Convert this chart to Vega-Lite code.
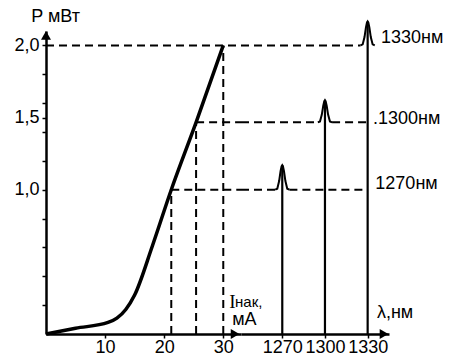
{
  "$schema": "https://vega.github.io/schema/vega-lite/v6.json",
  "padding": {"left": 13, "top": 7, "right": 0, "bottom": 0},
  "spacing": 0,
  "bounds": "flush",
  "config": {
    "font": "Liberation Sans",
    "view": {"stroke": null},
    "axis": {"domainColor": "black", "tickColor": "black", "labelColor": "black", "labelFontSize": 18, "grid": false, "domainWidth": 2.5, "tickWidth": 1.5, "labelOverlap": false}
  },
  "datasets": {
    "curve": [
      {"i": 0, "p": 0}, {"i": 5, "p": 0.04}, {"i": 10.5, "p": 0.08}, {"i": 12, "p": 0.11},
      {"i": 13.5, "p": 0.17}, {"i": 15, "p": 0.27}, {"i": 18, "p": 0.61}, {"i": 21.2, "p": 1.0},
      {"i": 25.4, "p": 1.467}, {"i": 30, "p": 2.0}
    ],
    "dashL": [
      {"i1": 0, "i2": 33, "p": 2.0},
      {"i1": 25.4, "i2": 33, "p": 1.467},
      {"i1": 21.2, "i2": 33, "p": 1.0}
    ],
    "vdashL": [
      {"i": 21.2, "p1": 0, "p2": 1.0},
      {"i": 25.4, "p1": 0, "p2": 1.467},
      {"i": 30, "p1": 0, "p2": 2.0}
    ],
    "arrowsL": [
      {"i": 0, "p": 2.07, "dir": "up"},
      {"i": 32.0, "p": 0, "dir": "right"}
    ],
    "textL": [
      {"i": -2.5, "p": 2.2, "t": "P мВт", "kind": "main"},
      {"i": 31.5, "p": 0.097, "t": "мА", "kind": "main"},
      {"i": 32.0, "p": 0.22, "t": "нак,", "kind": "sub"},
      {"i": 31.0, "p": 0.225, "t": "I", "kind": "serif"}
    ],
    "dashR": [
      {"l1": 1241, "l2": 1325, "p": 2.0},
      {"l1": 1241, "l2": 1295, "p": 1.467},
      {"l1": 1305, "l2": 1330, "p": 1.467},
      {"l1": 1241, "l2": 1265, "p": 1.0},
      {"l1": 1275, "l2": 1330, "p": 1.0}
    ],
    "stems": [
      {"l": 1270, "p1": 0, "p2": 1.17},
      {"l": 1300, "p1": 0, "p2": 1.62},
      {"l": 1330, "p1": 0, "p2": 2.166}
    ],
    "peaks": [
      {"peak": "1270", "l": 1265, "p": 1.0}, {"peak": "1270", "l": 1266.5, "p": 1.007},
      {"peak": "1270", "l": 1267.8, "p": 1.06}, {"peak": "1270", "l": 1268.8, "p": 1.128},
      {"peak": "1270", "l": 1269.5, "p": 1.162}, {"peak": "1270", "l": 1270, "p": 1.17},
      {"peak": "1270", "l": 1270.5, "p": 1.162}, {"peak": "1270", "l": 1271.2, "p": 1.128},
      {"peak": "1270", "l": 1272.2, "p": 1.06}, {"peak": "1270", "l": 1273.5, "p": 1.007},
      {"peak": "1270", "l": 1275, "p": 1.0},
      {"peak": "1300", "l": 1295, "p": 1.467}, {"peak": "1300", "l": 1296.5, "p": 1.473},
      {"peak": "1300", "l": 1297.8, "p": 1.521}, {"peak": "1300", "l": 1298.8, "p": 1.582},
      {"peak": "1300", "l": 1299.5, "p": 1.612}, {"peak": "1300", "l": 1300, "p": 1.62},
      {"peak": "1300", "l": 1300.5, "p": 1.612}, {"peak": "1300", "l": 1301.2, "p": 1.582},
      {"peak": "1300", "l": 1302.2, "p": 1.521}, {"peak": "1300", "l": 1303.5, "p": 1.473},
      {"peak": "1300", "l": 1305, "p": 1.467},
      {"peak": "1330", "l": 1325, "p": 2.0}, {"peak": "1330", "l": 1326.5, "p": 2.007},
      {"peak": "1330", "l": 1327.8, "p": 2.058}, {"peak": "1330", "l": 1328.8, "p": 2.125},
      {"peak": "1330", "l": 1329.5, "p": 2.158}, {"peak": "1330", "l": 1330, "p": 2.166},
      {"peak": "1330", "l": 1330.5, "p": 2.158}, {"peak": "1330", "l": 1331.2, "p": 2.125},
      {"peak": "1330", "l": 1332.2, "p": 2.058}, {"peak": "1330", "l": 1333.5, "p": 2.007},
      {"peak": "1330", "l": 1335, "p": 2.0}
    ],
    "textR": [
      {"l": 1339.4, "p": 2.05, "t": "1330нм"},
      {"l": 1333.8, "p": 1.49, "t": ".1300нм"},
      {"l": 1335.4, "p": 1.04, "t": "1270нм"},
      {"l": 1336.5, "p": 0.145, "t": "λ,нм"}
    ]
  },
  "hconcat": [
    {
      "width": 195,
      "height": 303,
      "layer": [
        {
          "data": {"name": "dashL"},
          "mark": {"type": "rule", "strokeDash": [8, 5], "strokeWidth": 2, "color": "black"},
          "encoding": {
            "x": {"field": "i1", "type": "quantitative", "title": null,
                  "scale": {"domain": [0, 33], "nice": false, "zero": false},
                  "axis": {"values": [10, 20, 30], "tickSize": 4, "labelPadding": 0, "labelFlush": false, "labelFontSize": 18}},
            "x2": {"field": "i2"},
            "y": {"field": "p", "type": "quantitative", "title": null,
                  "scale": {"domain": [0, 2.1], "nice": false},
                  "axis": {"values": [0.2, 0.4, 0.6, 0.8, 1.0, 1.2, 1.4, 1.5, 1.6, 1.8, 2.0], "tickCount": 30, "tickSize": 4, "labelPadding": 3, "labelOverlap": false,
                           "labelExpr": "(abs(datum.value - 1) < 0.001 || abs(datum.value - 1.5) < 0.001 || abs(datum.value - 2) < 0.001) ? replace(format(datum.value, '.1f'), '.', ',') : ''"}}
          }
        },
        {
          "data": {"name": "vdashL"},
          "mark": {"type": "rule", "strokeDash": [8, 5], "strokeWidth": 2, "color": "black"},
          "encoding": {
            "x": {"field": "i", "type": "quantitative", "title": null},
            "y": {"field": "p1", "type": "quantitative", "title": null},
            "y2": {"field": "p2"}
          }
        },
        {
          "data": {"name": "curve"},
          "mark": {"type": "line", "color": "black", "strokeWidth": 3.5, "interpolate": "monotone"},
          "encoding": {
            "x": {"field": "i", "type": "quantitative", "title": null},
            "y": {"field": "p", "type": "quantitative", "title": null}
          }
        },
        {
          "data": {"name": "arrowsL"},
          "transform": [{"filter": "datum.dir == 'up'"}],
          "mark": {"type": "point", "shape": "triangle-up", "filled": true, "color": "black", "size": 100, "opacity": 1},
          "encoding": {
            "x": {"field": "i", "type": "quantitative", "title": null},
            "y": {"field": "p", "type": "quantitative", "title": null}
          }
        },
        {
          "data": {"name": "arrowsL"},
          "transform": [{"filter": "datum.dir == 'right'"}],
          "mark": {"type": "point", "shape": "triangle-right", "filled": true, "color": "black", "size": 100, "opacity": 1},
          "encoding": {
            "x": {"field": "i", "type": "quantitative", "title": null},
            "y": {"field": "p", "type": "quantitative", "title": null}
          }
        },
        {
          "data": {"name": "textL"},
          "transform": [{"filter": "datum.kind == 'main'"}],
          "mark": {"type": "text", "align": "left", "baseline": "middle", "fontSize": 18, "color": "black"},
          "encoding": {
            "x": {"field": "i", "type": "quantitative", "title": null},
            "y": {"field": "p", "type": "quantitative", "title": null},
            "text": {"field": "t"}
          }
        },
        {
          "data": {"name": "textL"},
          "transform": [{"filter": "datum.kind == 'sub'"}],
          "mark": {"type": "text", "align": "left", "baseline": "middle", "fontSize": 15, "color": "black"},
          "encoding": {
            "x": {"field": "i", "type": "quantitative", "title": null},
            "y": {"field": "p", "type": "quantitative", "title": null},
            "text": {"field": "t"}
          }
        },
        {
          "data": {"name": "textL"},
          "transform": [{"filter": "datum.kind == 'serif'"}],
          "mark": {"type": "text", "align": "left", "baseline": "middle", "fontSize": 19, "font": "Liberation Serif", "color": "black"},
          "encoding": {
            "x": {"field": "i", "type": "quantitative", "title": null},
            "y": {"field": "p", "type": "quantitative", "title": null},
            "text": {"field": "t"}
          }
        }
      ]
    },
    {
      "width": 148,
      "height": 303,
      "layer": [
        {
          "data": {"name": "dashR"},
          "mark": {"type": "rule", "strokeDash": [8, 5], "strokeWidth": 2, "color": "black"},
          "encoding": {
            "x": {"field": "l1", "type": "quantitative", "title": null,
                  "scale": {"domain": [1241, 1345], "nice": false, "zero": false},
                  "axis": {"values": [1270, 1300, 1330], "tickSize": 4, "labelPadding": 0, "labelFlush": false, "labelFontSize": 18, "format": "d"}},
            "x2": {"field": "l2"},
            "y": {"field": "p", "type": "quantitative", "title": null,
                  "scale": {"domain": [0, 2.1], "nice": false}, "axis": null}
          }
        },
        {
          "data": {"name": "stems"},
          "mark": {"type": "rule", "strokeWidth": 2.2, "color": "black"},
          "encoding": {
            "x": {"field": "l", "type": "quantitative", "title": null},
            "y": {"field": "p1", "type": "quantitative", "title": null},
            "y2": {"field": "p2"}
          }
        },
        {
          "data": {"name": "peaks"},
          "mark": {"type": "line", "strokeWidth": 2, "color": "black", "interpolate": "linear"},
          "encoding": {
            "x": {"field": "l", "type": "quantitative", "title": null},
            "y": {"field": "p", "type": "quantitative", "title": null},
            "detail": {"field": "peak"}
          }
        },
        {
          "data": {"values": [{"l": 1341.5, "p": 0}]},
          "mark": {"type": "point", "shape": "triangle-right", "filled": true, "color": "black", "size": 100, "opacity": 1},
          "encoding": {
            "x": {"field": "l", "type": "quantitative", "title": null},
            "y": {"field": "p", "type": "quantitative", "title": null}
          }
        },
        {
          "data": {"name": "textR"},
          "mark": {"type": "text", "align": "left", "baseline": "middle", "fontSize": 18, "color": "black"},
          "encoding": {
            "x": {"field": "l", "type": "quantitative", "title": null},
            "y": {"field": "p", "type": "quantitative", "title": null},
            "text": {"field": "t"}
          }
        }
      ]
    }
  ]
}
